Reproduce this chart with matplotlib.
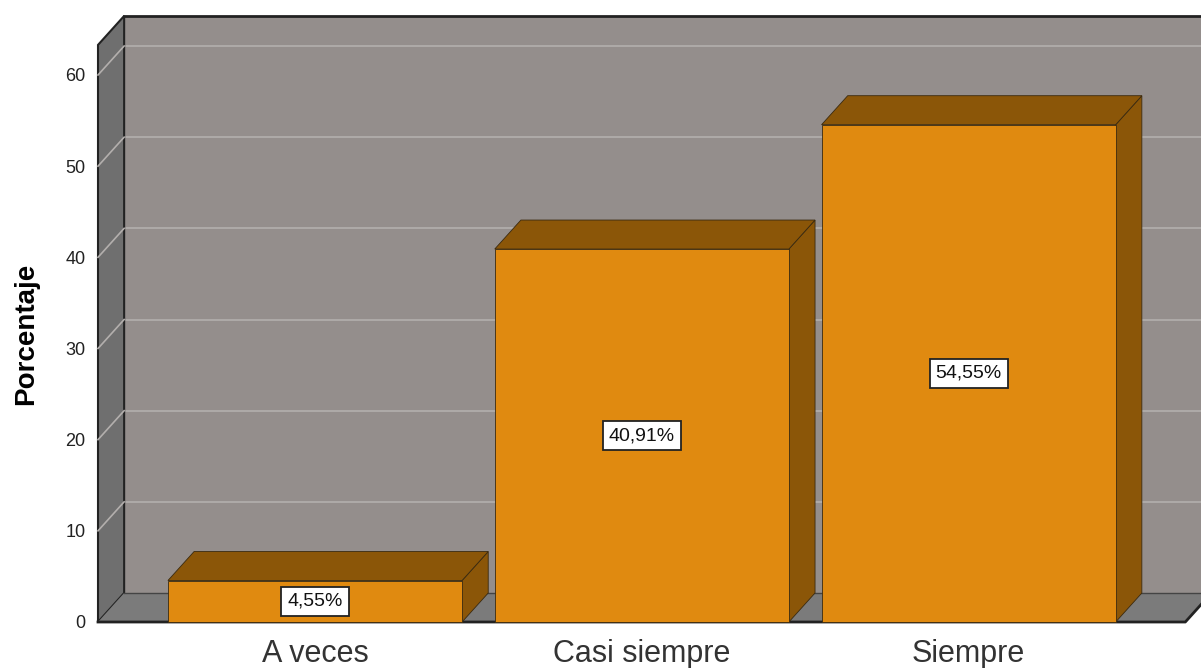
import matplotlib.pyplot as plt
from matplotlib.patches import Polygon, Rectangle

plt.rcParams['font.family'] = ['Liberation Sans', 'DejaVu Sans']

categories = ['A veces', 'Casi siempre', 'Siempre']
percentages = [4.55, 40.91, 54.55]
value_labels = ['4,55%', '40,91%', '54,55%']
y_ticks = [0, 10, 20, 30, 40, 50, 60]

# 3D look
bar_w = 0.9
dx, dy = 0.08, 3.18
x0, x1 = -0.664, 2.663
wall_top = 63.3

c_back = '#948e8c'
c_side = '#6f6f6f'
c_floor = '#7b7b7b'
c_grid = '#b3afad'
c_front = '#e08a10'
c_dark = '#8b5608'
c_edge = '#3a2a10'


def main():
    fig = plt.figure(figsize=(12.01, 6.68), dpi=100)
    ax = fig.add_axes([98 / 1201, 46 / 668, 1103 / 1201, 547 / 668])
    ax.set_xlim(x0, 2.711)
    ax.set_ylim(0, 60)

    # back wall
    ax.add_patch(Rectangle((x0 + dx, dy), 5, wall_top, facecolor=c_back,
                           edgecolor='none', clip_on=False, zorder=1))
    ax.plot([x0 + dx, 4], [wall_top + dy] * 2, color='#222222', lw=2,
            clip_on=False, zorder=2)
    for v in y_ticks[1:]:
        ax.plot([x0 + dx, 4], [v + dy] * 2, color=c_grid, lw=1.2,
                clip_on=False, zorder=2)

    # left wall
    ax.add_patch(Polygon([(x0, 0), (x0 + dx, dy), (x0 + dx, wall_top + dy),
                          (x0, wall_top)], closed=True, facecolor=c_side,
                         edgecolor='#222222', lw=1.5, clip_on=False, zorder=3))
    for v in y_ticks[1:]:
        ax.plot([x0, x0 + dx], [v, v + dy], color=c_grid, lw=1.2,
                clip_on=False, zorder=3)

    # floor
    ax.add_patch(Polygon([(x0, 0), (x1, 0), (x1 + dx, dy), (x0 + dx, dy)],
                         closed=True, facecolor=c_floor, edgecolor='none',
                         clip_on=False, zorder=3))
    ax.plot([x0 + dx, x1 + dx], [dy, dy], color='#444444', lw=1,
            clip_on=False, zorder=3)
    ax.plot([x0, x1, x1 + dx], [0, 0, dy], color='#222222', lw=2,
            clip_on=False, zorder=4)

    # bars
    for i, v in enumerate(percentages):
        l, r = i - bar_w / 2, i + bar_w / 2
        ax.add_patch(Polygon([(r, 0), (r + dx, dy), (r + dx, v + dy), (r, v)],
                             closed=True, facecolor=c_dark, edgecolor=c_edge,
                             lw=0.6, clip_on=False, zorder=5))
        ax.add_patch(Polygon([(l, v), (r, v), (r + dx, v + dy), (l + dx, v + dy)],
                             closed=True, facecolor=c_dark, edgecolor=c_edge,
                             lw=0.6, clip_on=False, zorder=5))
        ax.add_patch(Rectangle((l, 0), bar_w, v, facecolor=c_front,
                               edgecolor=c_edge, lw=0.6, clip_on=False, zorder=6))
        ax.text(i, v / 2, value_labels[i], ha='center', va='center',
                fontsize=14, color='#111111', zorder=7,
                bbox=dict(boxstyle='square,pad=0.3', facecolor='white',
                          edgecolor='#222222', lw=1.3))

    for s in ax.spines.values():
        s.set_visible(False)
    ax.set_yticks(y_ticks)
    ax.set_yticklabels([str(t) for t in y_ticks], fontsize=13, color='#222222')
    ax.set_xticks(range(len(categories)))
    ax.set_xticklabels(categories, fontsize=22, color='#333333')
    ax.tick_params(axis='y', length=0, pad=9)
    ax.tick_params(axis='x', length=0, pad=12)
    ax.set_ylabel('Porcentaje', fontsize=20, fontweight='bold')
    ax.yaxis.set_label_coords(-0.053, 0.527)

    fig.savefig('out.png', dpi=100)


if __name__ == '__main__':
    main()
